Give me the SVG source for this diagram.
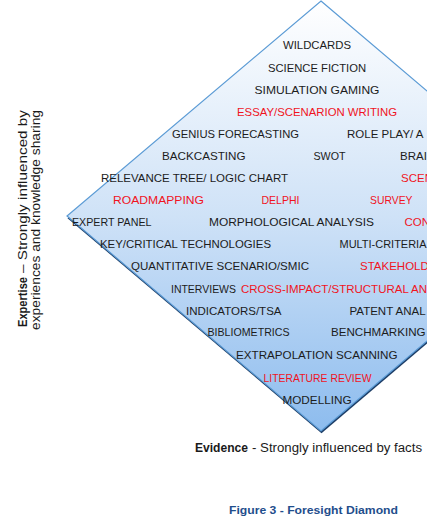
<svg xmlns="http://www.w3.org/2000/svg" width="427" height="522" viewBox="0 0 427 522">
<style>
text{font-family:"Liberation Sans",Arial,sans-serif;}
.t{font-size:11.5px;fill:#1c1c1c;}
.r{font-size:11.5px;fill:#f0141e;}
.ax{font-size:12px;fill:#1a1a1a;}
.b{font-weight:bold;}
.cap{font-size:11px;font-weight:bold;fill:#1f4e8c;}
</style>
<defs>
<linearGradient id="g" x1="0" y1="0" x2="0" y2="1">
<stop offset="0" stop-color="#ffffff"/>
<stop offset="0.5" stop-color="#cfe2f7"/>
<stop offset="1" stop-color="#8dbcee"/>
</linearGradient>
<filter id="blur" x="-5%" y="-5%" width="110%" height="110%"><feGaussianBlur stdDeviation="0.7"/></filter>
</defs>
<g id="diamond">
<polygon points="321.5,3.2 574.5,218.2 321.5,433.2 67.5,218.2" fill="#1d3d66" filter="url(#blur)"/>
<polygon points="321,1 574,216 321,431 67,216" fill="url(#g)" stroke="#5b9bd5" stroke-width="1.2"/>
</g>
<g id="connectors"></g>
<g id="n-wildcards"><text class="t" x="283" y="48.5" textLength="68" lengthAdjust="spacingAndGlyphs">WILDCARDS</text></g>
<g id="n-science-fiction"><text class="t" x="268" y="71.5" textLength="98" lengthAdjust="spacingAndGlyphs">SCIENCE FICTION</text></g>
<g id="n-simulation-gaming"><text class="t" x="254.5" y="93.5" textLength="125" lengthAdjust="spacingAndGlyphs">SIMULATION GAMING</text></g>
<g id="n-essay"><text class="r" x="237" y="115.5" textLength="160" lengthAdjust="spacingAndGlyphs">ESSAY/SCENARION WRITING</text></g>
<g id="n-genius"><text class="t" x="172" y="137.5" textLength="127" lengthAdjust="spacingAndGlyphs">GENIUS FORECASTING</text></g>
<g id="n-role-play"><text class="t" x="347" y="137.5">ROLE PLAY/ A</text></g>
<g id="n-backcasting"><text class="t" x="162" y="159.5" textLength="83.5" lengthAdjust="spacingAndGlyphs">BACKCASTING</text></g>
<g id="n-swot"><text class="t" x="313.5" y="159.5" textLength="32" lengthAdjust="spacingAndGlyphs">SWOT</text></g>
<g id="n-brai"><text class="t" x="400" y="159.5">BRAI</text></g>
<g id="n-relevance"><text class="t" x="101" y="181.5" textLength="187" lengthAdjust="spacingAndGlyphs">RELEVANCE TREE/ LOGIC CHART</text></g>
<g id="n-scen"><text class="r" x="401" y="181.5">SCEN</text></g>
<g id="n-roadmapping"><text class="r" x="113" y="204" textLength="91" lengthAdjust="spacingAndGlyphs">ROADMAPPING</text></g>
<g id="n-delphi"><text class="r" x="261.5" y="204" textLength="38" lengthAdjust="spacingAndGlyphs">DELPHI</text></g>
<g id="n-survey"><text class="r" x="370" y="204" textLength="42.5" lengthAdjust="spacingAndGlyphs">SURVEY</text></g>
<g id="n-expert-panel"><text class="t" x="72" y="226" textLength="79.5" lengthAdjust="spacingAndGlyphs">EXPERT PANEL</text></g>
<g id="n-morphological"><text class="t" x="209" y="226" textLength="165" lengthAdjust="spacingAndGlyphs">MORPHOLOGICAL ANALYSIS</text></g>
<g id="n-con"><text class="r" x="404.5" y="226">CON</text></g>
<g id="n-key-critical"><text class="t" x="100" y="248" textLength="171" lengthAdjust="spacingAndGlyphs">KEY/CRITICAL TECHNOLOGIES</text></g>
<g id="n-multi-criteria"><text class="t" x="339.5" y="248" textLength="87" lengthAdjust="spacingAndGlyphs">MULTI-CRITERIA</text></g>
<g id="n-quantitative"><text class="t" x="131" y="270" textLength="178" lengthAdjust="spacingAndGlyphs">QUANTITATIVE SCENARIO/SMIC</text></g>
<g id="n-stakehold"><text class="r" x="360" y="270">STAKEHOLD</text></g>
<g id="n-interviews"><text class="t" x="171" y="292.5" textLength="65" lengthAdjust="spacingAndGlyphs">INTERVIEWS</text></g>
<g id="n-cross-impact"><text class="r" x="241" y="292.5">CROSS-IMPACT/STRUCTURAL AN</text></g>
<g id="n-indicators"><text class="t" x="186" y="314.5" textLength="95.5" lengthAdjust="spacingAndGlyphs">INDICATORS/TSA</text></g>
<g id="n-patent"><text class="t" x="349.5" y="314.5">PATENT ANAL</text></g>
<g id="n-bibliometrics"><text class="t" x="207.5" y="336" textLength="82" lengthAdjust="spacingAndGlyphs">BIBLIOMETRICS</text></g>
<g id="n-benchmarking"><text class="t" x="331" y="336" textLength="94.5" lengthAdjust="spacingAndGlyphs">BENCHMARKING</text></g>
<g id="n-extrapolation"><text class="t" x="236" y="359" textLength="161.5" lengthAdjust="spacingAndGlyphs">EXTRAPOLATION SCANNING</text></g>
<g id="n-literature"><text class="r" x="263.5" y="381.5" textLength="108" lengthAdjust="spacingAndGlyphs">LITERATURE REVIEW</text></g>
<g id="n-modelling"><text class="t" x="282.5" y="403.5" textLength="69" lengthAdjust="spacingAndGlyphs">MODELLING</text></g>
<g id="axis-evidence">
<text class="ax b" x="195" y="452" textLength="53" lengthAdjust="spacingAndGlyphs">Evidence</text>
<text class="ax" x="252" y="452" textLength="170" lengthAdjust="spacingAndGlyphs">- Strongly influenced by facts</text>
</g>
<g id="axis-expertise">
<text class="ax b" transform="translate(27,327) rotate(-90)" x="0" y="0" textLength="50" lengthAdjust="spacingAndGlyphs">Expertise</text>
<text class="ax" transform="translate(27,273) rotate(-90)" x="0" y="0" textLength="163" lengthAdjust="spacingAndGlyphs">– Strongly influenced by</text>
<text class="ax" transform="translate(40,330) rotate(-90)" x="0" y="0" textLength="220" lengthAdjust="spacingAndGlyphs">experiences and knowledge sharing</text>
</g>
<g id="caption"><text class="cap" x="229" y="514" textLength="169" lengthAdjust="spacingAndGlyphs">Figure 3 - Foresight Diamond</text></g>
</svg>
